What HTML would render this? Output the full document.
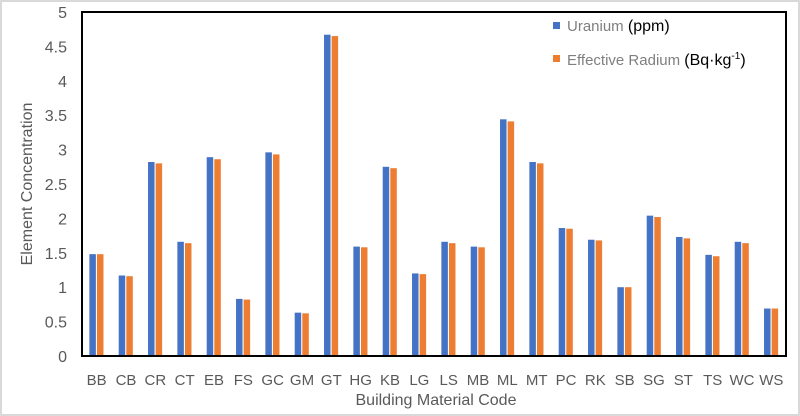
<!DOCTYPE html>
<html><head><meta charset="utf-8"><style>
html,body{margin:0;padding:0;background:#fff;}
svg{display:block;font-family:"Liberation Sans",sans-serif;}
</style></head><body>
<svg width="800" height="416" viewBox="0 0 800 416" xmlns="http://www.w3.org/2000/svg">
<rect x="0.5" y="0.5" width="799" height="415" fill="#fff" stroke="#d9d9d9" stroke-width="3"/>
<g id="bars"></g>
<rect x="82" y="12" width="704" height="344" fill="none" stroke="#000" stroke-width="2"/>
<g font-size="16" fill="#595959" text-anchor="end" id="yt"></g>
<g font-size="15" fill="#595959" text-anchor="middle" id="xt"></g>
<text x="436" y="405" font-size="16" fill="#595959" text-anchor="middle">Building Material Code</text>
<text transform="translate(32,184) rotate(-90)" font-size="16" fill="#595959" text-anchor="middle">Element Concentration</text>
<rect x="553" y="22" width="7" height="7" fill="#4472c4"/>
<text x="567" y="31" font-size="15" fill="#7f7f7f">Uranium <tspan fill="#000" font-size="16">(ppm)</tspan></text>
<rect x="553" y="55" width="7" height="7" fill="#ed7d31"/>
<text x="567" y="65" font-size="15" fill="#7f7f7f">Effective Radium <tspan fill="#000" font-size="16">(Bq·kg</tspan><tspan fill="#000" font-size="10" dy="-6">-1</tspan><tspan fill="#000" font-size="16" dy="6">)</tspan></text>
</svg>
<script>
var cats="BB CB CR CT EB FS GC GM GT HG KB LG LS MB ML MT PC RK SB SG ST TS WC WS".split(" ");
var u=[1.48,1.17,2.82,1.66,2.89,0.83,2.96,0.63,4.67,1.59,2.75,1.20,1.66,1.59,3.44,2.82,1.86,1.69,1.00,2.04,1.73,1.47,1.66,0.69];
var r=[1.48,1.16,2.80,1.64,2.86,0.82,2.93,0.62,4.65,1.58,2.73,1.19,1.64,1.58,3.41,2.80,1.85,1.68,1.00,2.02,1.71,1.45,1.64,0.69];
var ns="http://www.w3.org/2000/svg",b=document.getElementById("bars"),xt=document.getElementById("xt"),yt=document.getElementById("yt");
function el(t,a,p,txt){var e=document.createElementNS(ns,t);for(var k in a)e.setAttribute(k,a[k]);if(txt)e.textContent=txt;p.appendChild(e);}
var w=704/24;
for(var i=0;i<24;i++){var c=82+w*(i+0.5);
el("rect",{x:c-7.3,y:356-u[i]*68.8,width:6.5,height:u[i]*68.8,fill:"#4472c4"},b);
el("rect",{x:c+0.3,y:356-r[i]*68.8,width:6.5,height:r[i]*68.8,fill:"#ed7d31"},b);
el("text",{x:c,y:385},xt,cats[i]);}
for(var j=0;j<=10;j++){el("text",{x:67,y:362-j*34.4},yt,String(j/2));}
</script>
</body></html>
